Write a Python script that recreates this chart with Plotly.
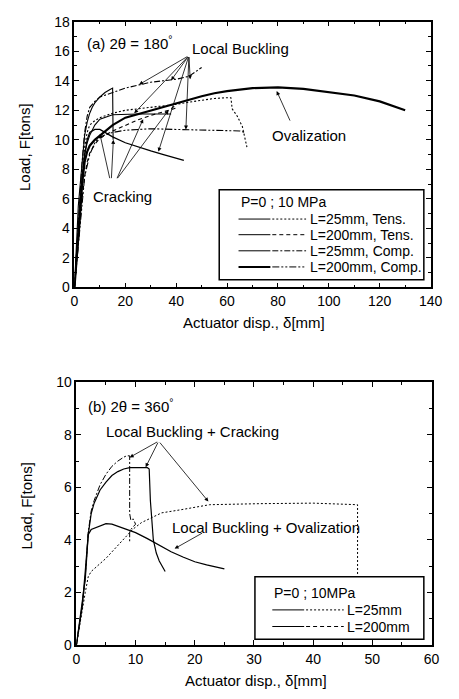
import plotly.graph_objects as go

# ---------------- data: (a) 2θ = 180° ----------------
a_l25_tens_p0_x = [0, 0.5, 1, 1.5, 2, 2.5, 3, 3.5, 4, 5, 6, 7, 8, 10, 12, 14, 15, 15.2]
a_l25_tens_p0_y = [0, 2, 4, 5.5, 6.5, 7.5, 8.5, 9.5, 10.3, 11.2, 11.8, 12.2, 12.5, 12.9, 13.2, 13.4, 13.5, 10.0]
a_l25_tens_p10_x = [0, 1, 2, 3, 4, 5, 6, 8, 10, 15, 20, 25, 30, 35, 40, 45, 50]
a_l25_tens_p10_y = [0, 3, 6, 8.5, 10.5, 11.6, 12.2, 12.6, 12.9, 13.2, 13.5, 13.7, 13.9, 14.0, 14.1, 14.3, 14.9]

a_l200_tens_p0_x = [0, 0.5, 1, 2, 3, 4, 5, 6, 8, 10, 15, 20, 25, 30, 35, 38]
a_l200_tens_p0_y = [0, 1.5, 3, 5.5, 7.5, 9, 9.8, 10.3, 11.0, 11.4, 11.7, 11.75, 11.75, 11.75, 11.75, 11.75]
a_l200_tens_p10_x = [0, 1, 2, 3, 4, 5, 6, 8, 10, 15, 20, 25, 30, 35, 40, 45, 50, 55, 60, 61.5, 62, 64, 66, 67.8]
a_l200_tens_p10_y = [0, 2.5, 5, 7.5, 9.5, 10.5, 11, 11.3, 11.5, 11.8, 12.0, 12.1, 12.2, 12.3, 12.4, 12.55, 12.7, 12.8, 12.85, 12.85, 12.1, 11.6, 10.9, 9.5]

a_l25_comp_p0_x = [0, 1, 2, 3, 4, 5, 6, 8, 10, 12, 15, 20, 25, 30, 35, 40, 43]
a_l25_comp_p0_y = [0, 2, 4.5, 7, 9, 10, 10.5, 10.7, 10.7, 10.5, 10.2, 9.8, 9.5, 9.25, 9.0, 8.75, 8.6]
a_l25_comp_p10_x = [0, 1, 2, 3, 4, 6, 8, 10, 15, 20, 25, 30, 40, 50, 60, 65, 67]
a_l25_comp_p10_y = [0, 2, 4, 6, 7.5, 9, 9.8, 10.2, 10.5, 10.65, 10.7, 10.75, 10.7, 10.65, 10.6, 10.6, 10.5]

a_l200_comp_p0_x = [0, 1, 2, 3, 4, 5, 6, 8, 10, 15, 20, 25, 30, 35, 40, 45, 50, 55, 60, 70, 80, 90, 100, 110, 120, 125, 130]
a_l200_comp_p0_y = [0, 2, 4.5, 7, 8.5, 9.2, 9.6, 10.0, 10.3, 11.0, 11.5, 11.75, 12.0, 12.25, 12.5, 12.75, 12.95, 13.15, 13.3, 13.5, 13.55, 13.45, 13.25, 13.0, 12.6, 12.3, 12.0]
a_l200_comp_p10_x = [0, 1, 2, 3, 4, 5, 6, 8, 10, 15, 20, 25, 30, 35, 38, 40, 39, 38]
a_l200_comp_p10_y = [0, 1.8, 4, 6, 7.5, 8.5, 9.1, 9.7, 10.1, 10.6, 11.0, 11.35, 11.65, 11.9, 12.0, 12.15, 12.25, 12.1]

# ---------------- data: (b) 2θ = 360° ----------------
b_l25_p0_x = [0, 0.5, 1, 1.5, 2, 2.5, 3, 4, 5, 6, 7, 8, 9, 10, 11, 12, 12.3, 12.5, 13, 13.5, 14, 15]
b_l25_p0_y = [0, 0.8, 1.5, 2.5, 4.2, 5.0, 5.4, 5.9, 6.2, 6.45, 6.6, 6.7, 6.75, 6.75, 6.75, 6.75, 6.7, 5.5, 4.0, 3.5, 3.2, 2.8]
b_l25_p10_x = [0, 0.5, 1, 1.5, 2, 2.5, 3, 4, 5, 6, 7, 8, 8.5, 9, 9, 9.2, 9.6, 10, 9.2, 9, 9]
b_l25_p10_y = [0, 0.8, 1.5, 2.6, 4.3, 5.1, 5.5, 6.1, 6.5, 6.8, 7.0, 7.15, 7.2, 7.2, 5.0, 4.75, 4.8, 4.6, 4.4, 4.3, 3.9]
b_l200_p0_x = [0, 0.5, 1, 1.5, 2, 2.5, 3, 4, 5, 6, 8, 10, 12, 14, 16, 18, 20, 22, 25]
b_l200_p0_y = [0, 0.8, 1.5, 2.8, 4.2, 4.4, 4.45, 4.55, 4.62, 4.6, 4.45, 4.28, 4.05, 3.8, 3.55, 3.35, 3.17, 3.05, 2.9]
b_l200_p10_x = [0, 0.5, 1, 1.5, 2, 2.5, 5, 7.5, 9.5, 11, 14.4, 17.7, 22.5, 31, 40, 47.5, 47.5]
b_l200_p10_y = [0, 0.7, 1.3, 2.0, 2.6, 2.8, 3.3, 3.9, 4.4, 4.66, 5.03, 5.15, 5.34, 5.38, 5.4, 5.34, 2.68]

# ---------------- axis ticks ----------------
a_xticks = [0, 20, 40, 60, 80, 100, 120, 140]
a_yticks = [0, 2, 4, 6, 8, 10, 12, 14, 16, 18]
b_xticks = [0, 10, 20, 30, 40, 50, 60]
b_yticks = [0, 2, 4, 6, 8, 10]

FONT = "Liberation Sans, Arial, sans-serif"
W, H = 459, 699

fig = go.Figure()

def add(x, y, dash, width, xa, ya):
    fig.add_trace(go.Scatter(x=x, y=y, mode="lines", xaxis=xa, yaxis=ya, showlegend=False,
                             line=dict(color="black", width=width, dash=dash)))

DOT = "2px,2px"
DASH = "4px,3px"
DASHDOT = "6px,2px,2px,2px"
DASHDOTDOT = "7px,2px,2px,2px,2px,2px"

add(a_l25_tens_p0_x, a_l25_tens_p0_y, "solid", 1.1, "x", "y")
add(a_l25_tens_p10_x, a_l25_tens_p10_y, DASHDOT, 1.1, "x", "y")
add(a_l200_tens_p0_x, a_l200_tens_p0_y, "solid", 1.1, "x", "y")
add(a_l200_tens_p10_x, a_l200_tens_p10_y, DOT, 1.1, "x", "y")
add(a_l25_comp_p0_x, a_l25_comp_p0_y, "solid", 1.3, "x", "y")
add(a_l25_comp_p10_x, a_l25_comp_p10_y, DASHDOTDOT, 1.1, "x", "y")
add(a_l200_comp_p0_x, a_l200_comp_p0_y, "solid", 2.2, "x", "y")
add(a_l200_comp_p10_x, a_l200_comp_p10_y, DASH, 1.1, "x", "y")

add(b_l25_p0_x, b_l25_p0_y, "solid", 1.2, "x2", "y2")
add(b_l25_p10_x, b_l25_p10_y, DASHDOT, 1.0, "x2", "y2")
add(b_l200_p0_x, b_l200_p0_y, "solid", 1.3, "x2", "y2")
add(b_l200_p10_x, b_l200_p10_y, DOT, 1.0, "x2", "y2")

def axis(domain, rng, tickvals, minor, anchor, **kw):
    return dict(domain=domain, range=rng, tickvals=tickvals, anchor=anchor,
                showgrid=False, zeroline=False, showline=True, linecolor="black", linewidth=1.5,
                mirror="allticks", ticks="inside", ticklen=5, tickwidth=1.2, tickcolor="black",
                minor=dict(dtick=minor, ticks="inside", ticklen=3, tickwidth=1, tickcolor="black"),
                tickfont=dict(family=FONT, size=14, color="black"), **kw)

fig.update_layout(
    width=W, height=H, margin=dict(l=0, r=0, t=0, b=0),
    paper_bgcolor="white", plot_bgcolor="white",
    xaxis=axis([73 / W, 442 / W], [0, 140], a_xticks, 10, "y"),
    yaxis=axis([1 - 286 / H, 1 - 14 / H], [0, 18], a_yticks, 1, "x"),
    xaxis2=axis([75 / W, 443 / W], [0, 60], b_xticks, 5, "y2"),
    yaxis2=axis([1 - 652 / H, 1 - 383 / H], [0, 10], b_yticks, 1, "x2"),
)

ann = []
def text(x, y, s, xref="x", yref="y", size=15, xanchor="left", angle=0):
    ann.append(dict(x=x, y=y, xref=xref, yref=yref, text=s, showarrow=False, xanchor=xanchor,
                    yanchor="middle", textangle=angle,
                    font=dict(family=FONT, size=size, color="black")))

def arrow(x0, y0, x1, y1, xr="x", yr="y"):
    ann.append(dict(x=x1, y=y1, ax=x0, ay=y0, xref=xr, yref=yr, axref=xr, ayref=yr, text="",
                    showarrow=True, arrowhead=2, arrowsize=1, arrowwidth=0.8, arrowcolor="black"))

# (a) labels
text(4, 16.6, "(a) 2θ = 180<sup>°</sup>")
text(45.5, 16.2, "Local Buckling")
text(77, 10.3, "Ovalization")
text(6.5, 6.15, "Cracking")
for tx, ty in [(25.4, 13.74), (23.5, 11.8), (38, 14.03), (33, 9.2), (43.8, 10.7), (45.5, 14.1)]:
    arrow(45, 15.7, tx, ty)
arrow(85, 11.2, 79.5, 13.3)
for ox, tx, ty in [(14, 10, 10.4), (14.5, 15.3, 10.0), (16.5, 27, 11.4), (16.5, 37, 12.0)]:
    arrow(ox, 7.3, tx, ty)

# (b) labels
text(1.6, 9.12, "(b) 2θ = 360<sup>°</sup>", "x2", "y2")
text(4.6, 8.13, "Local Buckling + Cracking", "x2", "y2")
text(15.8, 4.47, "Local Buckling + Ovalization", "x2", "y2")
for tx, ty in [(9.0, 7.14), (11.7, 6.77), (22.3, 5.46)]:
    arrow(13.9, 7.76, tx, ty, "x2", "y2")
arrow(21.5, 4.29, 16.6, 3.67, "x2", "y2")

# axis titles
text(259 / W, 1 - 322 / H, "Actuator disp., δ[mm]", "paper", "paper", 15, "center")
text(261 / W, 1 - 688 / H, "Actuator disp., δ[mm]", "paper", "paper", 15, "center")
text(22 / W, 1 - 142 / H, "Load, F[tons]", "paper", "paper", 15, "center", -90)
text(23 / W, 1 - 509 / H, "Load, F[tons]", "paper", "paper", 15, "center", -90)

# manual legends (paper coords, two-style keys)
shapes = []
def box(x0, y0, x1, y1):
    shapes.append(dict(type="rect", xref="paper", yref="paper", x0=x0 / W, x1=x1 / W,
                       y0=1 - y1 / H, y1=1 - y0 / H, line=dict(color="black", width=1.5),
                       fillcolor="white", layer="above"))
def seg(x0, x1, y, dash, width):
    shapes.append(dict(type="line", xref="paper", yref="paper", x0=x0 / W, x1=x1 / W,
                       y0=1 - y / H, y1=1 - y / H, line=dict(color="black", width=width, dash=dash),
                       layer="above"))

box(223, 186, 435, 278)
text(243 / W, 1 - 199 / H, "P=0 ; 10 MPa", "paper", "paper", 14)
a_leg = [("L=25mm, Tens.", DOT, 1.0), ("L=200mm, Tens.", DASH, 1.0),
         ("L=25mm, Comp.", DASHDOT, 1.0), ("L=200mm, Comp.", DASHDOTDOT, 2.0)]
for i, (lab, d, w) in enumerate(a_leg):
    yy = [216, 232, 248.5, 265][i]
    seg(243, 276, yy, "solid", w)
    seg(278, 313, yy, d, 1.0)
    text(315 / W, 1 - yy / H, lab, "paper", "paper", 14)

box(260, 582, 435, 646)
text(278 / W, 1 - 599 / H, "P=0 ; 10MPa", "paper", "paper", 14)
for i, (lab, d) in enumerate([("L=25mm", DOT), ("L=200mm", DASH)]):
    yy = [616, 633][i]
    seg(278, 311, yy, "solid", 1.0)
    seg(313, 352, yy, d, 1.0)
    text(353 / W, 1 - yy / H, lab, "paper", "paper", 14)

fig.update_layout(annotations=ann, shapes=shapes)
fig.write_html("out.html", config={"displayModeBar": False},
               post_script="document.body.style.margin='0px';document.body.style.overflow='hidden';")
